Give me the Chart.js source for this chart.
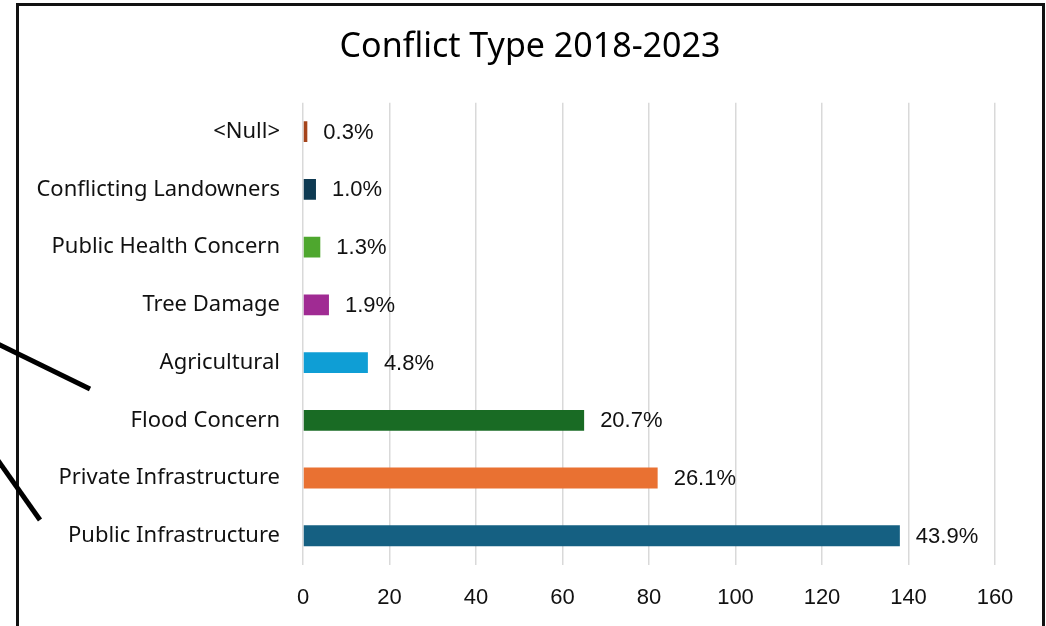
<!DOCTYPE html>
<html>
<head>
<meta charset="utf-8">
<title>Conflict Type 2018-2023</title>
<script src="https://cdn.jsdelivr.net/npm/chart.js@4"></script>
<style>
  html, body { margin: 0; padding: 0; background: #fff; }
  #wrap { position: relative; width: 1046px; height: 626px; overflow: hidden; }
  #frame { position: absolute; left: 16px; top: 3px; width: 1023px; height: 640px; border: 3px solid #111; }
  #marks { position: absolute; left: 0; top: 0; }
  canvas { position: absolute; left: 0; top: 0; }
</style>
</head>
<body>
<div id="wrap">
  <canvas id="conflict-type" width="1046" height="626"></canvas>
  <div id="frame"></div>
  <svg id="marks" width="1046" height="626">
    <line x1="-4" y1="343" x2="90" y2="389" stroke="#000" stroke-width="5"/>
    <line x1="-3" y1="459" x2="40" y2="520" stroke="#000" stroke-width="5"/>
  </svg>
</div>
<script>
// datos
var categories = ['<Null>', 'Conflicting Landowners', 'Public Health Concern', 'Tree Damage',
                  'Agricultural', 'Flood Concern', 'Private Infrastructure', 'Public Infrastructure'];
var counts = [1, 3, 4, 6, 15, 65, 82, 138];
var barColors = ['#a5441b', '#0e3a52', '#4ea72e', '#a02b93', '#0f9ed5', '#196b24', '#e97132', '#156082'];
var xTicks = [0, 20, 40, 60, 80, 100, 120, 140, 160];

var total = counts.reduce(function (a, b) { return a + b; }, 0);

// etiquetas de porcentaje al final de cada barra
var percentLabels = {
    id: 'percentLabels',
    afterLayout: function (chart) {
        // el titulo va centrado sobre todo el marco, no solo sobre el area
        if (chart.titleBlock) {
            chart.titleBlock.left = 65;
            chart.titleBlock.right = 995;
        }
    },
    afterDatasetsDraw: function (chart) {
        var ctx = chart.ctx;
        var meta = chart.getDatasetMeta(0);
        ctx.save();
        ctx.font = '22px "Liberation Sans", Arial, sans-serif';
        ctx.fillStyle = '#111';
        ctx.textAlign = 'left';
        ctx.textBaseline = 'middle';
        meta.data.forEach(function (bar, i) {
            var pct = (counts[i] / total * 100).toFixed(1) + '%';
            ctx.fillText(pct, bar.x + 16, bar.y + 1);
        });
        ctx.restore();
    }
};

var ctx = document.getElementById('conflict-type').getContext('2d');
var myChart = new Chart(ctx, {
    type: 'bar',
    data: {
        labels: categories,
        datasets: [{
            data: counts,
            backgroundColor: barColors,
            barPercentage: 0.36,
            categoryPercentage: 1
        }]
    },
    options: {
        indexAxis: 'y',
        responsive: false,
        animation: false,
        layout: {
            padding: { top: 10, right: 51, bottom: -5, left: 0 }
        },
        scales: {
            x: {
                min: 0,
                max: 160,
                afterBuildTicks: function (scale) {
                    scale.ticks = xTicks.map(function (v) { return { value: v }; });
                },
                grid: { color: '#d9d9d9', lineWidth: 1.5, drawTicks: false },
                border: { display: false },
                ticks: {
                    padding: 20,
                    color: '#111',
                    font: { family: '"Liberation Sans", Arial, sans-serif', size: 22 }
                }
            },
            y: {
                afterFit: function (scale) { scale.width = 303; },
                grid: { display: false, drawTicks: false },
                border: { display: false },
                ticks: {
                    padding: 23,
                    color: '#111',
                    autoSkip: false,
                    font: { family: '"Noto Sans", sans-serif', size: 22 }
                }
            }
        },
        plugins: {
            legend: { display: false },
            tooltip: { enabled: false },
            title: {
                display: true,
                text: 'Conflict Type 2018-2023',
                color: '#000',
                font: { family: '"Noto Sans", sans-serif', size: 34, weight: 'normal' },
                padding: { top: 17, bottom: 35 }
            }
        }
    },
    plugins: [percentLabels]
});
</script>
</body>
</html>
